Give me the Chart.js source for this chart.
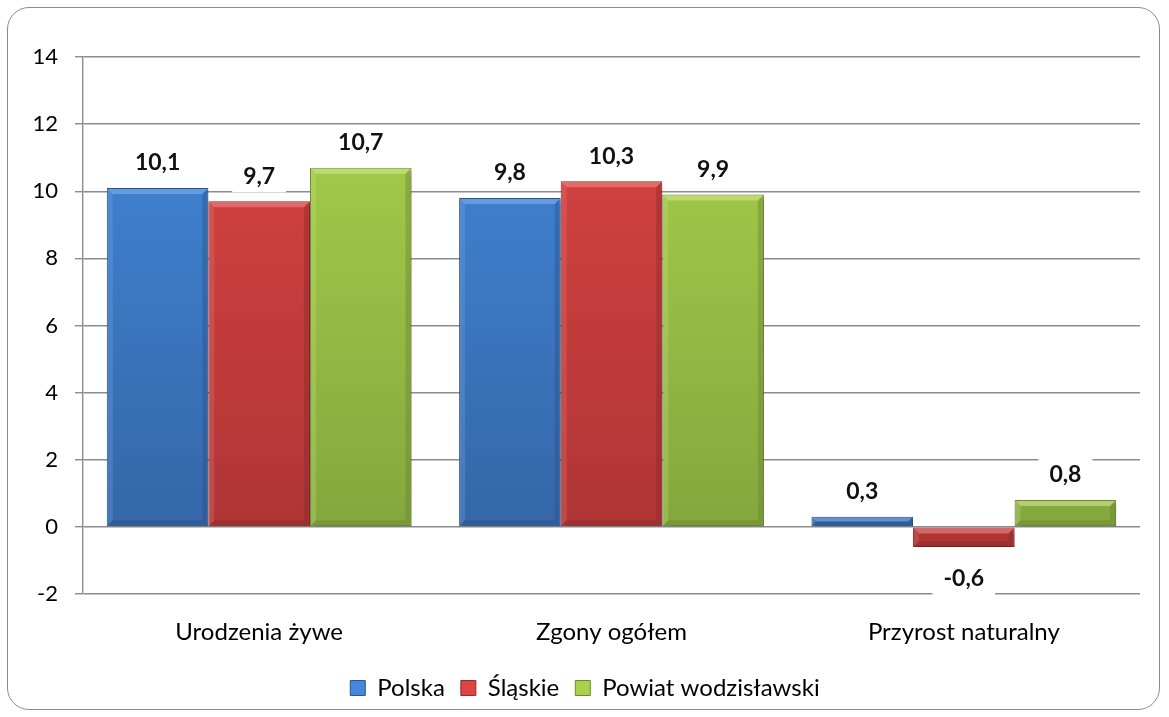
<!DOCTYPE html>
<html>
<head>
<meta charset="utf-8">
<script src="https://cdn.jsdelivr.net/npm/chart.js@4/dist/chart.umd.min.js"></script>
<style>
  html, body { margin: 0; padding: 0; background: #fff; }
  #wrap { position: relative; width: 1169px; height: 717px; }
  #frame {
    position: absolute; left: 7px; top: 7px; width: 1151px; height: 701px;
    border: 1.5px solid #8c8c8c; border-radius: 22px; pointer-events: none;
  }
</style>
</head>
<body>
<div id="wrap">
  <canvas id="chart" width="1169" height="717"></canvas>
  <div id="frame"></div>
</div>
<script>
const categories = ["Urodzenia żywe", "Zgony ogółem", "Przyrost naturalny"];
const seriesNames = ["Polska", "Śląskie", "Powiat wodzisławski"];
const polska = [10.1, 9.8, 0.3];
const slaskie = [9.7, 10.3, -0.6];
const powiat = [10.7, 9.9, 0.8];
const yTicks = { min: -2, max: 14, step: 2 };

const FONT = "Lato, 'Open Sans', sans-serif";
const GRID = "#8c8c8c";

// top / bottom / border / light / dark
const palette = [
  { top: "#4388da", bottom: "#3362a1", border: "#2c568d", light: "#7fb0ec", dark: "#284f86" },
  { top: "#dc4443", bottom: "#a83333", border: "#922b2b", light: "#f08585", dark: "#8a2828" },
  { top: "#a9d24c", bottom: "#7fa13c", border: "#6c8a30", light: "#cfe98a", dark: "#66832c" },
];

function fillFor(i) {
  return function (context) {
    const area = context.chart.chartArea;
    if (!area) return palette[i].top;
    const g = context.chart.ctx.createLinearGradient(0, area.top, 0, area.bottom);
    g.addColorStop(0, palette[i].top);
    g.addColorStop(1, palette[i].bottom);
    return g;
  };
}

function formatValue(v) {
  return v.toFixed(1).replace(".", ",");
}

const barLook = {
  id: "barLook",
  beforeDatasetDraw(chart) {
    const ctx = chart.ctx;
    ctx.save();
    ctx.shadowColor = "rgba(0,0,0,0.35)";
    ctx.shadowBlur = 5;
    ctx.shadowOffsetX = 2;
    ctx.shadowOffsetY = 3;
  },
  afterDatasetDraw(chart, args) {
    const ctx = chart.ctx;
    ctx.restore();
    const p = palette[args.index];
    const meta = args.meta;
    meta.data.forEach((bar) => {
      const { x, y, base, width } = bar.getProps(["x", "y", "base", "width"], true);
      const l = x - width / 2 + 1, r = x + width / 2 - 1;
      const t = Math.min(y, base) + 1, b = Math.max(y, base) - 1;
      const h = b - t;
      const e = Math.min(5, h / 2);
      ctx.save();
      // top bevel
      ctx.globalAlpha = 0.6;
      ctx.fillStyle = p.light;
      ctx.beginPath();
      ctx.moveTo(l, t); ctx.lineTo(r, t); ctx.lineTo(r - e, t + e); ctx.lineTo(l + e, t + e);
      ctx.closePath(); ctx.fill();
      // left bevel
      ctx.globalAlpha = 0.25;
      ctx.beginPath();
      ctx.moveTo(l, t); ctx.lineTo(l + e, t + e); ctx.lineTo(l + e, b - e); ctx.lineTo(l, b);
      ctx.closePath(); ctx.fill();
      // right + bottom bevel
      ctx.globalAlpha = 0.4;
      ctx.fillStyle = p.dark;
      ctx.beginPath();
      ctx.moveTo(r, t); ctx.lineTo(r, b); ctx.lineTo(r - e, b - e); ctx.lineTo(r - e, t + e);
      ctx.closePath(); ctx.fill();
      ctx.beginPath();
      ctx.moveTo(l, b); ctx.lineTo(r, b); ctx.lineTo(r - e, b - e); ctx.lineTo(l + e, b - e);
      ctx.closePath(); ctx.fill();
      ctx.restore();
    });
  },
};

const valueLabels = {
  id: "valueLabels",
  afterDatasetsDraw(chart) {
    const ctx = chart.ctx;
    ctx.save();
    ctx.font = "bold 23px " + FONT;
    ctx.textAlign = "center";
    ctx.textBaseline = "middle";
    chart.data.datasets.forEach((ds, di) => {
      chart.getDatasetMeta(di).data.forEach((bar, i) => {
        const v = ds.data[i];
        const text = formatValue(v);
        const cy = v >= 0 ? bar.y - 25 : bar.y + 32;
        const w = ctx.measureText(text).width + 22;
        ctx.fillStyle = "#fff";
        ctx.fillRect(bar.x - w / 2, cy - 16, w, 32);
        ctx.fillStyle = "#111";
        ctx.fillText(text, bar.x, cy);
      });
    });
    ctx.restore();
  },
};

const datasets = [polska, slaskie, powiat].map((data, i) => ({
  label: seriesNames[i],
  data: data,
  backgroundColor: fillFor(i),
  borderColor: palette[i].border,
  borderWidth: 1,
  borderSkipped: false,
  categoryPercentage: 0.865,
  barPercentage: 1.0,
}));

new Chart(document.getElementById("chart"), {
  type: "bar",
  data: { labels: categories, datasets: datasets },
  plugins: [barLook, valueLabels],
  options: {
    responsive: false,
    animation: false,
    layout: { padding: { top: 57, right: 29, bottom: 7, left: 30 } },
    plugins: {
      legend: {
        position: "bottom",
        labels: {
          color: "#000",
          font: { family: FONT, size: 24 },
          boxWidth: 15,
          boxHeight: 15,
          padding: 16,
          generateLabels(chart) {
            return chart.data.datasets.map((ds, i) => ({
              text: ds.label,
              fillStyle: palette[i].top,
              strokeStyle: palette[i].border,
              lineWidth: 1,
              datasetIndex: i,
            }));
          },
        },
      },
      tooltip: { enabled: false },
    },
    scales: {
      x: {
        grid: { display: false, drawTicks: false },
        border: { display: false },
        ticks: { color: "#000", font: { family: FONT, size: 24 }, padding: 24 },
        afterFit(scale) { scale.height = 66; },
      },
      y: {
        min: yTicks.min,
        max: yTicks.max,
        grid: { color: GRID, lineWidth: 1.4, tickLength: 8 },
        border: { display: true, color: GRID, width: 1.4 },
        ticks: {
          stepSize: yTicks.step,
          color: "#000",
          font: { family: FONT, size: 22 },
          padding: 17,
        },
        afterFit(scale) { scale.width = 53; },
      },
    },
  },
});
</script>
</body>
</html>
